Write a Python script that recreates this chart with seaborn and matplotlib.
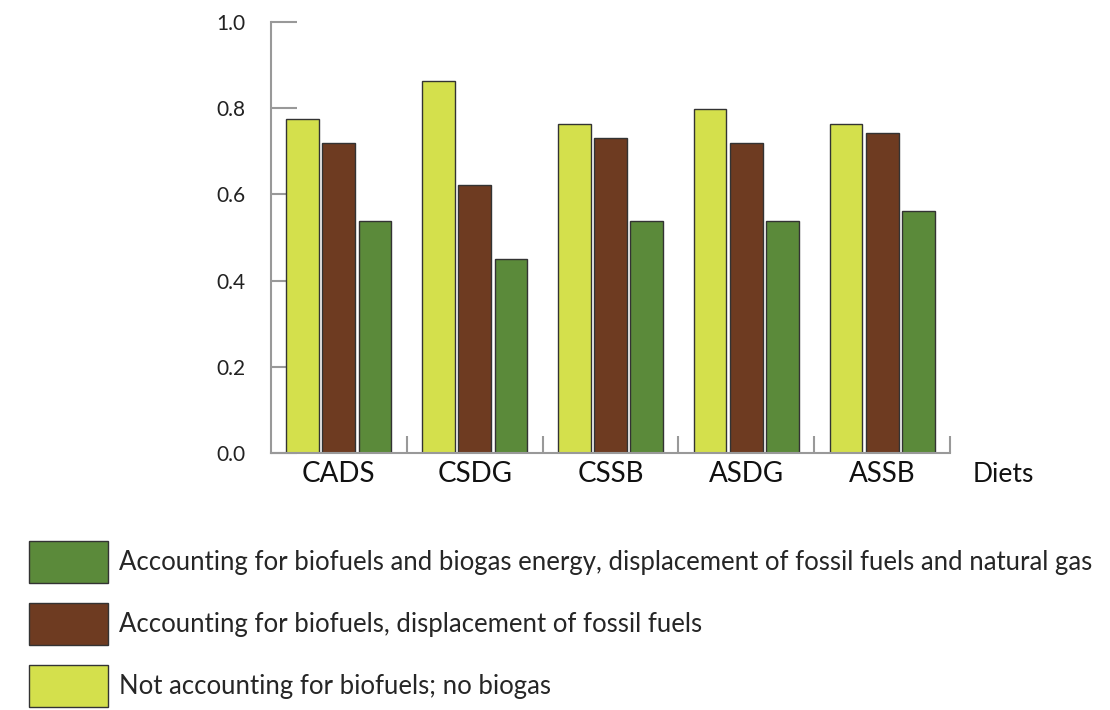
import pandas as pd
import matplotlib
matplotlib.use("Agg")
import matplotlib.pyplot as plt
import seaborn as sns

# --- data ---
diets = ["CADS", "CSDG", "CSSB", "ASDG", "ASSB"]
no_biofuels = [0.775, 0.862, 0.763, 0.798, 0.763]
biofuels = [0.719, 0.622, 0.731, 0.719, 0.742]
biofuels_biogas = [0.539, 0.450, 0.539, 0.539, 0.562]

series_names = [
    "Not accounting for biofuels; no biogas",
    "Accounting for biofuels, displacement of fossil fuels",
    "Accounting for biofuels and biogas energy, displacement of fossil fuels and natural gas",
]
series_colors = ["#d4e04c", "#6e3b21", "#5b8a3a"]

df = pd.DataFrame({
    "diet": diets * 3,
    "value": no_biofuels + biofuels + biofuels_biogas,
    "series": [series_names[0]] * 5 + [series_names[1]] * 5 + [series_names[2]] * 5,
})

sns.set_style("white")
plt.rcParams["font.family"] = ["Lato", "DejaVu Sans"]

fig = plt.figure(figsize=(11.1, 7.1), dpi=100)
ax = fig.add_axes([0.244, 0.362, 0.612, 0.607])

sns.barplot(data=df, x="diet", y="value", hue="series", hue_order=series_names,
            palette=series_colors, saturation=1, width=0.8, gap=0.1,
            edgecolor="#333333", linewidth=1.0, ax=ax)

ax.set_xlim(-0.5, 4.5)
ax.set_ylim(0, 1.0)
ax.set_yticks([0.0, 0.2, 0.4, 0.6, 0.8, 1.0])
ax.set_yticklabels(["0.0", "0.2", "0.4", "0.6", "0.8", "1.0"])
ax.set_xlabel("")
ax.set_ylabel("")

# spines / ticks
for side in ["top", "right"]:
    ax.spines[side].set_visible(False)
for side in ["left", "bottom"]:
    ax.spines[side].set_color("#999999")
    ax.spines[side].set_linewidth(1.5)

ax.tick_params(axis="y", left=True, direction="in", length=19, width=1.5,
               color="#999999", labelsize=15, pad=18, labelcolor="#222222")
ax.tick_params(axis="x", which="major", bottom=False, length=0, labelsize=20,
               pad=6, labelcolor="#111111")
ax.set_xticks([0.5, 1.5, 2.5, 3.5, 4.5], minor=True)
ax.tick_params(axis="x", which="minor", bottom=True, direction="in", length=12,
               width=1.5, color="#999999")

ax.text(1.033, -0.05, "Diets", transform=ax.transAxes, fontsize=19,
        color="#111111", va="center", ha="left")

# legend below, reversed order
handles, labels = ax.get_legend_handles_labels()
ax.get_legend().remove()
fig.legend(handles[::-1], labels[::-1], loc="upper left",
           bbox_to_anchor=(0.005, 0.27), frameon=False, fontsize=18.5,
           handlelength=3.1, handleheight=2.1, labelspacing=0.8,
           handletextpad=0.4)

plt.savefig("out.png", dpi=100)
